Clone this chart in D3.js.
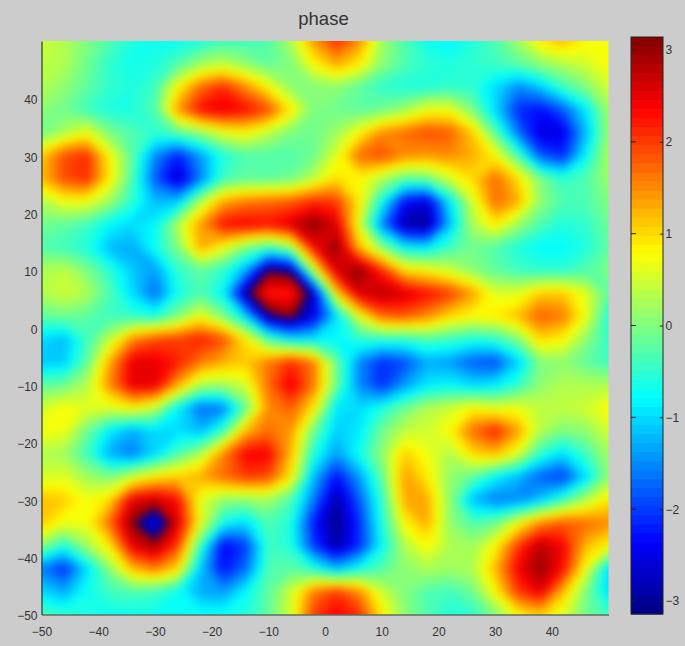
<!DOCTYPE html>
<html><head><meta charset="utf-8">
<script src="https://cdn.jsdelivr.net/npm/d3@7"></script>
<style>html,body{margin:0;padding:0;background:#cccccc;overflow:hidden}svg{display:block}text{font-family:"Liberation Sans",Arial,sans-serif}</style>
</head><body><svg id="c" width="685" height="646"></svg>
<script>
const titleText = "phase";
const xTicks = [-50,-40,-30,-20,-10,0,10,20,30,40];
const yTicks = [-50,-40,-30,-20,-10,0,10,20,30,40];
const barTicks = [-3,-2,-1,0,1,2,3];
const xGrid = [-50,-46,-42,-38,-34,-30,-26,-22,-18,-14,-10,-6,-2,2,6,10,14,18,22,26,30,34,38,42,46,50];
const yGrid = [50,46,42,38,34,30,26,22,18,14,10,6,2,-2,-6,-10,-14,-18,-22,-26,-30,-34,-38,-42,-46,-50];
// phase, unwrapped: values beyond +-pi wrap round the colormap
const phase = [
[.5,.3,0,-.3,-.6,-.7,-.7,-.6,-.4,-.4,-.3,.3,1.4,2.1,1.5,.2,-.3,-.7,-.8,-.6,-.3,.2,.9,1.2,.8,.7],
[.4,.3,-.1,-.5,-.7,-.6,-.3,.2,.4,.1,-.2,0,.8,1.3,.9,.1,-.3,-.5,-.6,-.5,-.4,-.2,.1,.3,.5,.8],
[.3,.1,-.2,-.5,-.6,-.4,.8,1.7,2.1,1.5,.8,.1,0,.1,-.2,-.5,-.6,-.6,-.5,-.5,-1,-1.5,-1.1,-.4,0,.5],
[.1,-.1,-.4,-.6,-.6,-.3,1.4,2.3,2.5,2.3,1.9,.9,0,-.1,-.2,-.1,.2,.7,.7,0,-1,-2.1,-2.3,-1.8,-.9,.2],
[-.1,.3,.7,0,-.3,-.5,-.2,.1,.6,.8,.4,0,-.1,.2,.8,1.5,1.7,1.9,1.8,1.1,-.2,-1.6,-2.6,-2.5,-1.2,.2],
[1.1,1.9,2.1,.8,-.2,-1.5,-2.2,-1.4,-.6,-.3,-.3,-.3,-.1,.6,1.7,1.9,1.5,1.4,1.5,1.3,.8,-.3,-1.8,-2.1,-.8,.3],
[1.2,1.9,2.1,.9,-.3,-1.8,-2.7,-1.6,-.4,-.2,-.2,-.1,.4,1,.8,.3,-.2,-.1,.5,1,1.7,1,0,-.5,-.3,.2],
[.3,.7,.7,.2,-.5,-1.2,-1.1,.3,1.3,1.6,1.7,1.8,2.1,2,.9,-.7,-2.3,-2.6,-.9,.5,1.7,1.3,.1,-.3,-.3,0],
[-.1,-.2,-.4,-.8,-1,-.8,.3,1.4,2.3,2.4,2.3,2.6,3.1,2.6,.6,-1.5,-2.9,-3,-1.2,.3,.9,.2,-.3,-.6,-.5,-.1],
[-.3,-.4,-.6,-1.2,-1.3,-.7,0,1.3,.7,0,-.4,.2,2.3,3.05,1.2,.1,-.8,-.9,-.4,-.1,-.3,-.6,-.8,-.8,-.6,-.2],
[.3,.4,0,-.5,-1.1,-1.4,-.5,-.2,-.5,-1.3,-3.1,-2.9,.4,2.6,3.1,2.1,1,.8,.5,.1,-.2,-.4,-.5,-.5,-.3,0],
[.3,.5,.3,-.3,-1,-1.7,-.7,-.3,-.8,-2.9,-4.1,-4.1,-2.7,1,2.6,2.8,2.6,2.3,2,1.4,.6,.6,1.1,1.1,.6,-.2],
[-.2,-.1,-.2,-.4,-.5,-.6,0,.7,0,-1,-2.9,-3.3,-2.5,-1,.6,1.7,1.8,1.5,1,.8,.9,1.2,1.8,1.6,.7,-.6],
[-1,-1.2,-.4,.4,1.5,1.9,2,2.2,1.9,.9,-.3,-.9,-.9,-.8,-.5,-.5,-.5,-.3,-.4,-.6,-.5,0,1,.8,.1,-.5],
[-1.1,-1.1,-.2,1.3,2.5,2.5,2.2,1.6,1.3,1.1,1.6,2.1,1.6,-.1,-1.5,-2.1,-1.9,-1.3,-1.4,-1.8,-1.9,-1.1,0,.1,-.2,-.4],
[-.2,-.1,.3,1.5,2.5,2.5,1.3,.3,.2,.5,1.7,2.5,1.6,-.1,-1.5,-2.1,-1.4,-.9,-.8,-1,-.9,-.5,.1,.3,.3,.3],
[.5,.8,.6,.6,.8,.4,-.8,-1.7,-1.6,-.2,1.5,1.8,.9,-.9,-1,-.6,-.1,.3,.5,.8,.6,.7,.4,.4,.5,.8],
[.7,.7,-.1,-.9,-1.3,-1,-1,-1.2,-.4,1.2,1.7,1.4,-.1,-1.1,-.9,-.1,.4,.5,.8,1.7,2.2,1.4,.3,0,.1,.5],
[.3,.2,-.4,-1.3,-1.6,-1,-.3,.3,1.5,2.4,2.4,1.2,-.6,-1.4,-.7,.1,1.1,.7,.3,1,1.2,.6,-.5,-1,-.4,.2],
[.5,.6,.2,0,.5,.9,1.1,1.3,1.7,2,1.9,.9,-1.2,-2.3,-1.4,-.2,1.4,.9,.1,-.2,-.8,-1.2,-1.8,-2,-1,.1],
[1.2,1.1,.7,1,2.5,2.7,2.3,.6,.1,.1,.2,-.3,-1.6,-2.9,-1.8,-.5,1.3,1.3,.1,-1.2,-1.6,-1.5,-1.1,-.4,.3,.9],
[1.1,.7,.7,1.7,3.05,3.9,2.6,.7,-.7,-1,-.3,-.6,-2.2,-3.1,-2.1,-.6,.8,1.3,.1,-.3,-.1,.7,1.5,1.8,1.7,1.5],
[.1,-.6,.2,.9,2.5,2.9,2,-.4,-2.4,-2,-.4,-.6,-2,-2.9,-2.1,-.8,.3,.8,.3,.2,.8,2,2.8,2.4,1.2,.8],
[-1.6,-2.1,-1,.1,1.2,1.6,1,-1.1,-2.3,-1.7,-.3,-.2,-.6,-1.2,-.7,-.3,.1,.3,.2,.3,1.2,2.4,3,2.3,.7,-1],
[-1,-1.3,-.7,-.4,-.3,-.4,-.7,-1.3,-1.4,-.8,-.2,.5,1.6,2,1.5,.5,0,-.3,-.4,-.1,.8,2,2.5,1.2,0,-1],
[-.3,-.5,-.6,-.7,-.7,-.7,-.7,-.7,-.7,-.6,-.2,.5,2,2.4,2.1,.9,.1,-.3,-.6,-.5,0,.8,1.1,.6,-.1,-.4]
];

const svg = d3.select("#c");
const plot = {l:41.5, r:608.5, t:41, b:614.5};
const bar = {l:631, r:663, t:37, b:614};
const x = d3.scaleLinear().domain([-50,50]).range([plot.l,plot.r]);
const y = d3.scaleLinear().domain([-50,50]).range([plot.b,plot.t]);
const cb = d3.scaleLinear().domain([-Math.PI,Math.PI]).range([bar.b,bar.t]);

const jet = d3.scaleLinear()
  .domain([0,.125,.375,.625,.875,1])
  .range(["#000080","#0000ff","#00ffff","#ffff00","#ff0000","#800000"])
  .interpolate(d3.interpolateRgb);
const wrap = v => { const p=2*Math.PI; return ((v+Math.PI)%p+p)%p/p; };
const levels = 64, step = 2*Math.PI/levels;

const pad = 3, nx = xGrid.length, ny = yGrid.length, W = nx+2*pad, H = ny+2*pad;
const flat = [];
for (let j=0;j<H;j++) for (let i=0;i<W;i++) {
  const r = phase[Math.max(0,Math.min(ny-1,j-pad))];
  flat.push(r[Math.max(0,Math.min(nx-1,i-pad))]);
}
const dx = xGrid[1]-xGrid[0], dy = yGrid[1]-yGrid[0];
const proj = d3.geoTransform({point(px,py){
  this.stream.point(x(xGrid[0]+(px-.5-pad)*dx), y(yGrid[0]+(py-.5-pad)*dy));
}});
const path = d3.geoPath(proj);
const lo = d3.min(flat), hi = d3.max(flat);
const ks = d3.range(Math.floor((lo+Math.PI)/step), Math.ceil((hi+Math.PI)/step));
const bands = ks.map(k => -Math.PI + k*step);
const contours = d3.contours().size([W,H]).smooth(true).thresholds(bands);

const defs = svg.append("defs");
defs.append("clipPath").attr("id","pc").append("rect")
  .attr("x",plot.l).attr("y",plot.t).attr("width",plot.r-plot.l).attr("height",plot.b-plot.t);
defs.append("filter").attr("id","soft").attr("filterUnits","userSpaceOnUse")
  .attr("x",-100).attr("y",-100).attr("width",900).attr("height",900)
  .attr("color-interpolation-filters","sRGB")
  .append("feGaussianBlur").attr("stdDeviation",4.5);

svg.append("g").attr("clip-path","url(#pc)").append("g").attr("filter","url(#soft)")
  .selectAll("path").data(contours(flat)).join("path")
  .attr("d",path)
  .attr("fill",d=>jet(wrap(d.value+step/2)));

const txt = "#333333";
const ax = svg.append("g").attr("transform",`translate(0,${plot.b})`)
  .call(d3.axisBottom(x).tickValues(xTicks).tickSize(0).tickPadding(13).tickFormat(d3.format("d")));
const ay = svg.append("g").attr("transform",`translate(${plot.l},0)`)
  .call(d3.axisLeft(y).tickValues(yTicks).tickSize(0).tickPadding(4).tickFormat(d3.format("d")));
for (const a of [ax,ay]) {
  a.attr("font-size",null);
  a.selectAll("text").attr("font-size",12).attr("fill",txt).attr("font-family","Liberation Sans");
  a.select(".domain").attr("stroke","#2a3a30").attr("stroke-width",1.2);
}
ay.selectAll("text").attr("dy","0.45em");

svg.append("text").attr("x",323.5).attr("y",25).attr("text-anchor","middle")
  .attr("font-size",18.5).attr("fill",txt).text(titleText);

const barGroup = svg.append("g");
barGroup.selectAll("rect").data(d3.range(levels)).join("rect")
  .attr("x",bar.l).attr("width",bar.r-bar.l)
  .attr("y",k=>cb(-Math.PI+(k+1)*step)).attr("height",k=>cb(-Math.PI+k*step)-cb(-Math.PI+(k+1)*step)+.5)
  .attr("fill",k=>jet((k+.5)/levels));
barGroup.append("rect").attr("x",bar.l).attr("y",bar.t).attr("width",bar.r-bar.l).attr("height",bar.b-bar.t)
  .attr("fill","none").attr("stroke","#222").attr("stroke-width",1);
const bax = svg.append("g").attr("transform",`translate(${bar.r},0)`)
  .call(d3.axisRight(cb).tickValues(barTicks).tickSize(-3).tickPadding(5).tickFormat(d3.format("d")));
bax.select(".domain").remove();
bax.selectAll("line").attr("stroke","#222");
bax.selectAll("text").attr("font-size",12).attr("fill",txt).attr("font-family","Liberation Sans").attr("x",2.5);
barGroup.selectAll("line.l").data(barTicks).join("line").attr("class","l")
  .attr("x1",bar.l).attr("x2",bar.l+5).attr("y1",d=>cb(d)).attr("y2",d=>cb(d)).attr("stroke","#222");
</script></body></html>
